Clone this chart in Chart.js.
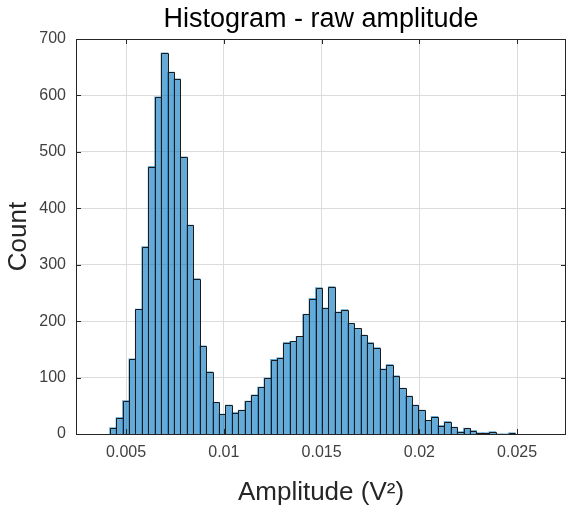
<!DOCTYPE html>
<html>
<head>
<meta charset="utf-8">
<script src="https://cdn.jsdelivr.net/npm/chart.js@4.4.1/dist/chart.umd.min.js"></script>
<style>
  html, body { margin: 0; padding: 0; background: #fff; }
</style>
</head>
<body>
<canvas id="chart1" width="567" height="510"></canvas>
<script>
// histogram bins, counts
const binStart = 0.004163;
const binWidth = 0.000329;
const counts = [
    11, 29, 59, 133, 221, 332, 474, 597, 675, 641,
    629, 491, 370, 275, 156, 110, 56, 35, 51, 38,
    42, 58, 69, 83, 99, 132, 135, 162, 164, 173,
    212, 240, 259, 223, 261, 216, 220, 196, 187, 175,
    162, 153, 115, 123, 103, 81, 67, 51, 42, 24,
    31, 15, 22, 12, 4, 10, 6, 2, 2, 4,
    0, 0, 2
];
const xTicks = [0.005, 0.01, 0.015, 0.02, 0.025];
const yTicks = [0, 100, 200, 300, 400, 500, 600, 700];
const xMin = 0.00244;
const xMax = 0.0275;

const titleText = 'Histogram - raw amplitude';
const xLabel = 'Amplitude (V\u00B2)';
const yLabel = 'Count';

const FONT = '"Liberation Sans", Arial, Helvetica, sans-serif';
const axisColor = '#262626';

const points = counts.map((c, i) => ({ x: binStart + (i + 0.5) * binWidth, y: c }));

// bar outlines on whole pixels, so neighbouring bins share one edge line
const edgePlugin = {
    id: 'edges',
    afterDatasetsDraw(chart) {
        const ctx = chart.ctx;
        const bars = chart.getDatasetMeta(0).data;
        ctx.save();
        ctx.strokeStyle = '#1a1a1a';
        ctx.lineWidth = 1;
        ctx.beginPath();
        bars.forEach((b, i) => {
            if (counts[i] === 0) return;
            const l = Math.round(b.x - b.width / 2) + 0.5;
            const r = Math.round(b.x + b.width / 2) + 0.5;
            const t = Math.round(b.y) + 0.5;
            const bot = Math.round(b.base) + 0.5;
            ctx.moveTo(l, bot); ctx.lineTo(l, t); ctx.lineTo(r, t); ctx.lineTo(r, bot);
        });
        ctx.stroke();
        ctx.restore();
    }
};

// box round the axes, with the little inside ticks matlab draws
const framePlugin = {
    id: 'frame',
    afterDatasetsDraw(chart) {
        const { ctx, chartArea: a, scales } = chart;
        const x = scales.x, y = scales.y;
        ctx.save();
        ctx.strokeStyle = axisColor;
        ctx.lineWidth = 1;
        ctx.beginPath();
        xTicks.forEach(v => {
            const px = Math.round(x.getPixelForValue(v)) + 0.5;
            ctx.moveTo(px, a.bottom); ctx.lineTo(px, a.bottom - 5);
            ctx.moveTo(px, a.top); ctx.lineTo(px, a.top + 5);
        });
        yTicks.forEach(v => {
            const py = Math.round(y.getPixelForValue(v)) + 0.5;
            ctx.moveTo(a.left, py); ctx.lineTo(a.left + 5, py);
            ctx.moveTo(a.right, py); ctx.lineTo(a.right - 5, py);
        });
        ctx.stroke();
        ctx.strokeRect(Math.round(a.left) + 0.5, Math.round(a.top) + 0.5,
            Math.round(a.width) - 1, Math.round(a.height));
        ctx.restore();
    },
    afterDraw(chart) {
        const { ctx, chartArea: a } = chart;
        ctx.save();
        ctx.font = '27px ' + FONT;
        ctx.fillStyle = '#000';
        ctx.textAlign = 'center';
        ctx.textBaseline = 'alphabetic';
        ctx.fillText(titleText, (a.left + a.right) / 2, 27);
        ctx.restore();
    }
};

const ctx = document.getElementById('chart1').getContext('2d');
const myChart = new Chart(ctx, {
    type: 'bar',
    data: {
        datasets: [{
            label: 'raw amplitude',
            data: points,
            backgroundColor: 'rgba(0, 114, 189, 0.6)',
            borderWidth: 0,
            inflateAmount: 0.5,
            barPercentage: 1.0,
            categoryPercentage: 1.0
        }]
    },
    options: {
        responsive: false,
        animation: false,
        layout: { padding: { top: 39, right: 1, left: 0, bottom: 0 } },
        plugins: {
            legend: { display: false },
            title: { display: false },
            tooltip: { enabled: false }
        },
        scales: {
            x: {
                type: 'linear',
                min: xMin,
                max: xMax,
                offset: false,
                afterFit: axis => { axis.height = 76; },
                afterBuildTicks: axis => { axis.ticks = xTicks.map(v => ({ value: v })); },
                grid: { color: '#dcdcdc', drawTicks: false, offset: false },
                border: { display: false },
                ticks: {
                    padding: 9,
                    color: '#404040',
                    font: { family: FONT, size: 16 },
                    maxRotation: 0,
                    autoSkip: false,
                    callback: v => String(+v.toFixed(4))
                },
                title: {
                    display: true,
                    text: xLabel,
                    color: axisColor,
                    font: { family: FONT, size: 26 },
                    padding: { top: 0, bottom: 2 }
                }
            },
            y: {
                min: 0,
                max: 700,
                afterFit: axis => { axis.width = 76; },
                afterBuildTicks: axis => { axis.ticks = yTicks.map(v => ({ value: v })); },
                grid: { color: '#dcdcdc', drawTicks: false },
                border: { display: false },
                ticks: {
                    padding: 10,
                    color: '#404040',
                    font: { family: FONT, size: 16 }
                },
                title: {
                    display: true,
                    text: yLabel,
                    color: axisColor,
                    font: { family: FONT, size: 26 },
                    padding: { top: 3, bottom: 0 }
                }
            }
        }
    },
    plugins: [edgePlugin, framePlugin]
});
</script>
</body>
</html>
